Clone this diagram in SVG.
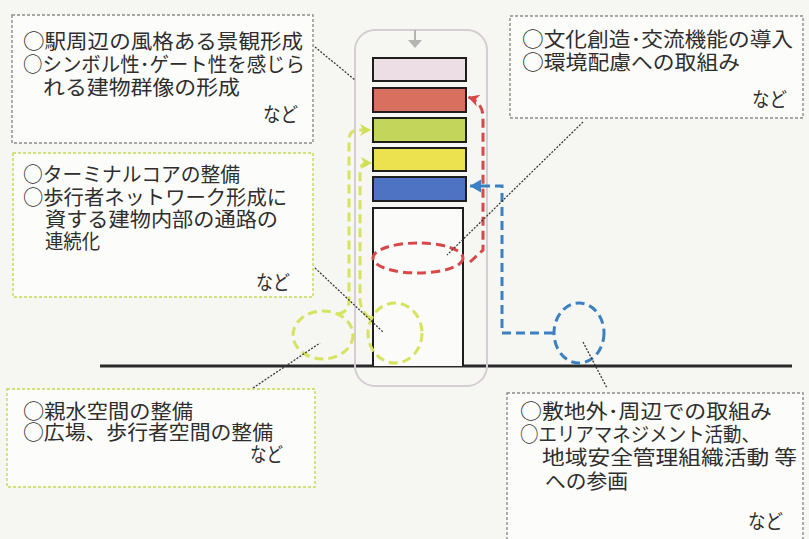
<svg xmlns="http://www.w3.org/2000/svg" width="809" height="539" viewBox="0 0 809 539">
<style>
.bg{fill:#f6f6f3}
.box{fill:#fcfcfb;stroke-width:1.4;stroke-dasharray:3 2}
.gray{stroke:#8c8c8c}
.yg{stroke:#c8d850}
.t{font-family:"Noto Sans CJK JP","Noto Sans",sans-serif;font-size:20px;fill:#2e2e2e}
.bar{stroke:#1e1e1e;stroke-width:2}
.lead{fill:none;stroke:#3a3a3a;stroke-width:1.3;stroke-dasharray:2 1.5}
.red{fill:none;stroke:#d84848;stroke-width:3;stroke-dasharray:9 5}
.blue{fill:none;stroke:#3b80c2;stroke-width:3;stroke-dasharray:9 5}
.ygl{fill:none;stroke:#d6e35e;stroke-width:3;stroke-dasharray:9 5}
</style>
<defs>
<marker id="arR" markerUnits="userSpaceOnUse" markerWidth="16" markerHeight="16" refX="12" refY="8" orient="auto">
<path d="M1 2 L12 8 L1 14 L4 8 Z" fill="#d84848"/>
</marker>
<marker id="arB" markerUnits="userSpaceOnUse" markerWidth="16" markerHeight="16" refX="12" refY="8" orient="auto">
<path d="M1 1.5 L12 8 L1 14.5 Z" fill="#3b80c2"/>
</marker>
<marker id="arY" markerUnits="userSpaceOnUse" markerWidth="16" markerHeight="16" refX="12" refY="8" orient="auto">
<path d="M1 2 L12 8 L1 14 L4 8 Z" fill="#d0df55"/>
</marker>
</defs>
<rect class="bg" x="0" y="0" width="809" height="539"/>

<g id="ground">
<line x1="100" y1="366" x2="792" y2="366" stroke="#2a2a2a" stroke-width="3"/>
</g>

<g id="building">
<rect x="355" y="30" width="132" height="356" rx="20" fill="none" stroke="#d6ccd3" stroke-width="2"/>
<path d="M415 30 L415 40" stroke="#b4b4b4" stroke-width="2"/>
<path d="M408 40 L422 40 L415 48 Z" fill="#b4b4b4"/>
<rect class="bar" x="373" y="58" width="93" height="23" fill="#eddde4"/>
<rect class="bar" x="373" y="88" width="93" height="24" fill="#d96f5f"/>
<rect class="bar" x="373" y="118" width="93" height="24" fill="#c3d55a"/>
<rect class="bar" x="373" y="148" width="93" height="23" fill="#ece24f"/>
<rect class="bar" x="373" y="177" width="93" height="24" fill="#4e73c3"/>
<path d="M373 366 L373 208 L463 208 L463 366" fill="#fbfbfa" stroke="#1e1e1e" stroke-width="2"/>
</g>

<g id="zone-interior">
<ellipse class="red" cx="418" cy="258" rx="45" ry="15"/>
</g>
<g id="zone-left">
<ellipse class="ygl" cx="323" cy="335" rx="30" ry="24"/>
</g>
<g id="zone-base">
<ellipse class="ygl" cx="395" cy="333" rx="27" ry="30"/>
</g>
<g id="zone-outside">
<ellipse class="blue" cx="579" cy="333" rx="25" ry="30"/>
</g>

<g id="connectors">
<path class="red" d="M470 262 L483 250 L483 118 Q483 102 468 97" marker-end="url(#arR)"/>
<path class="blue" d="M553 333 L502 333 L502 186 L470 186" marker-end="url(#arB)"/>
<path class="ygl" d="M338 314 Q349 312 349 300 L349 140 Q349 130 359 130 L371 130" marker-end="url(#arY)"/>
<path class="ygl" d="M370 318 Q361 312 360 300 L360 172 Q360 163 368 163 L372 163" marker-end="url(#arY)"/>
<path class="lead" d="M315 47 L355 80"/>
<path class="lead" d="M583 122 L447 255"/>
<path class="lead" d="M315 268 L383 332"/>
<path class="lead" d="M253 388 L320 343"/>
<path class="lead" d="M583 342 L607 388"/>
</g>

<g id="box-landscape">
<rect class="box gray" x="12" y="15" width="301" height="128"/>
<text class="t" x="23" y="49" textLength="280" lengthAdjust="spacingAndGlyphs">○駅周辺の風格ある景観形成</text>
<text class="t" x="23" y="72" textLength="282" lengthAdjust="spacingAndGlyphs">○シンボル性･ゲート性を感じら</text>
<text class="t" x="43" y="95" textLength="197" lengthAdjust="spacingAndGlyphs">れる建物群像の形成</text>
<text class="t" x="263" y="122" textLength="35" lengthAdjust="spacingAndGlyphs">など</text>
</g>

<g id="box-culture">
<rect class="box gray" x="510" y="16" width="293" height="102"/>
<text class="t" x="522" y="47" textLength="271" lengthAdjust="spacingAndGlyphs">○文化創造･交流機能の導入</text>
<text class="t" x="522" y="70" textLength="218" lengthAdjust="spacingAndGlyphs">○環境配慮への取組み</text>
<text class="t" x="752" y="107" textLength="35" lengthAdjust="spacingAndGlyphs">など</text>
</g>

<g id="box-terminal">
<rect class="box yg" x="13" y="153" width="300" height="144"/>
<text class="t" x="23" y="182" textLength="217" lengthAdjust="spacingAndGlyphs">○ターミナルコアの整備</text>
<text class="t" x="23" y="205" textLength="264" lengthAdjust="spacingAndGlyphs">○歩行者ネットワーク形成に</text>
<text class="t" x="45" y="227" textLength="233" lengthAdjust="spacingAndGlyphs">資する建物内部の通路の</text>
<text class="t" x="45" y="249" textLength="55" lengthAdjust="spacingAndGlyphs">連続化</text>
<text class="t" x="256" y="290" textLength="34" lengthAdjust="spacingAndGlyphs">など</text>
</g>

<g id="box-waterfront">
<rect class="box yg" x="7" y="389" width="308" height="98"/>
<text class="t" x="23" y="419" textLength="170" lengthAdjust="spacingAndGlyphs">○親水空間の整備</text>
<text class="t" x="23" y="440" textLength="250" lengthAdjust="spacingAndGlyphs">○広場、歩行者空間の整備</text>
<text class="t" x="250" y="462" textLength="33" lengthAdjust="spacingAndGlyphs">など</text>
</g>

<g id="box-area">
<rect class="box gray" x="507" y="393" width="296" height="160"/>
<text class="t" x="520" y="419" textLength="252" lengthAdjust="spacingAndGlyphs">○敷地外･周辺での取組み</text>
<text class="t" x="520" y="442" textLength="240" lengthAdjust="spacingAndGlyphs">○エリアマネジメント活動、</text>
<text class="t" x="542" y="465" textLength="255" lengthAdjust="spacingAndGlyphs">地域安全管理組織活動 等</text>
<text class="t" x="545" y="489" textLength="83" lengthAdjust="spacingAndGlyphs">への参画</text>
<text class="t" x="748" y="529" textLength="35" lengthAdjust="spacingAndGlyphs">など</text>
</g>
</svg>
